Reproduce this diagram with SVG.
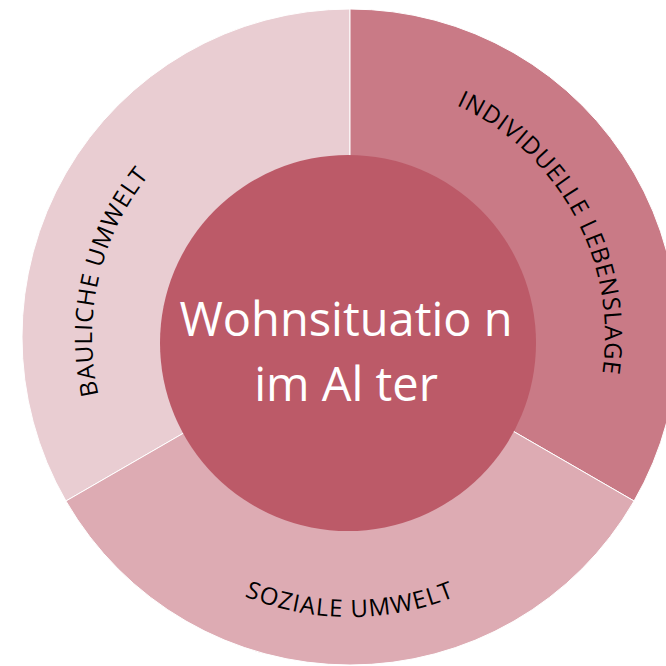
<svg xmlns="http://www.w3.org/2000/svg" width="666" height="666" viewBox="0 0 666 666">
<style>
.seg{stroke:#ffffff;stroke-width:1}
.lbl{font-family:"Open Sans","Noto Sans",sans-serif;font-size:24px;fill:#000000}
.ctr{font-family:"Open Sans","Noto Sans",sans-serif;font-size:47px;fill:#ffffff;text-anchor:middle}
</style>
<defs>
<path id="pLeft" d="M174.04,525.69 A258,258 0 0 1 274.57,90.27"/>
<path id="pRight" d="M356.68,82.09 A255,255 0 0 1 567.42,470.24"/>
<path id="pBottom" d="M107.51,477 A280,280 0 0 0 592.49,477"/>
</defs>
<rect width="666" height="666" fill="#ffffff"/>
<g id="bauliche">
<path class="seg" fill="#e9cdd2" d="M350,337 L65.94,501 A328,328 0 0 1 350,9 Z"/>
<text class="lbl" letter-spacing="0.9"><textPath href="#pLeft" startOffset="50%" text-anchor="middle">BAULICHE UMWELT</textPath></text>
</g>
<g id="individuelle">
<path class="seg" fill="#c97a86" d="M350,337 L350,9 A328,328 0 0 1 634.06,501 Z"/>
<text class="lbl" letter-spacing="0.9"><textPath href="#pRight" startOffset="50%" text-anchor="middle">INDIVIDUELLE LEBENSLAGE</textPath></text>
</g>
<g id="soziale">
<path class="seg" fill="#ddabb3" d="M350,337 L634.06,501 A328,328 0 0 1 65.94,501 Z"/>
<text class="lbl" letter-spacing="1.2"><textPath href="#pBottom" startOffset="50%" text-anchor="middle">SOZIALE UMWELT</textPath></text>
</g>
<g id="center">
<circle cx="348" cy="343" r="188" fill="#bc5a68"/>
<text class="ctr" x="346" y="336">Wohnsituatio n</text>
<text class="ctr" x="346" y="401">im Al ter</text>
</g>
<g id="connectors"/>
</svg>
